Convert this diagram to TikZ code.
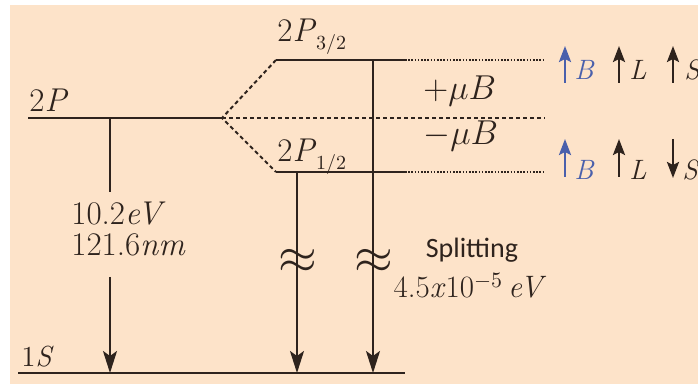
\documentclass[tikz,border=0pt]{standalone}
\usepackage{fontspec}
\newfontfamily\notefont{Carlito}
\usetikzlibrary{arrows.meta,positioning}
\definecolor{peach}{HTML}{FDE3C9}
\definecolor{ink}{HTML}{2E231D}
\definecolor{fieldblue}{HTML}{4A60AC}
\newcommand{\jsub}[1]{\raisebox{-4pt}{\fontsize{10}{10}\selectfont #1}}
\tikzset{
  level/.style={draw=ink,line width=1.4pt},
  splitline/.style={draw=ink,line width=1pt,dash pattern=on 2pt off 1.5pt},
  guide/.style={draw=ink,line width=0.9pt,dash pattern=on 0.8pt off 0.8pt},
  drop/.style={draw=ink,line width=1pt},
  trans/.style={drop,-{Stealth[length=11pt,width=7pt,inset=2.5pt]}},
  spin/.style={line width=1.2pt,-{Stealth[length=8pt,width=6pt,inset=1.5pt]}},
  lbl/.style={inner sep=0pt,text=ink,font=\fontsize{16.5}{16}\selectfont},
  spinlbl/.style={inner sep=0pt,font=\fontsize{14}{14}\selectfont\itshape},
  brk/.style={inner sep=0pt,text=ink,font=\fontsize{24}{24}\selectfont}
}
\begin{document}
\begin{tikzpicture}[x=0.5pt,y=-0.5pt]
\useasboundingbox (0,0) rectangle (698,384);
\fill[peach] (10,5) rectangle (698,384);
% levels
\coordinate (p2l) at (28,118);  \coordinate (p2r) at (222,118);
\coordinate (p32l) at (276,60); \coordinate (p32r) at (405,60);
\coordinate (p12l) at (276,172); \coordinate (p12r) at (405,172);
\coordinate (s1l) at (18,373);  \coordinate (s1r) at (405,373);
\draw[level] (p2l) -- (p2r);
\draw[level] (p32l) -- (p32r);
\draw[level] (p12l) -- (p12r);
\draw[level] (s1l) -- (s1r);
\node[lbl,anchor=base west] (n2p) at (29,112) {2\textit{P}};
\node[lbl,anchor=base west] (n32) at (277,42) {2\textit{P}\jsub{3/2}};
\node[lbl,anchor=base west] (n12) at (277,162) {2\textit{P}\jsub{1/2}};
\node[lbl,anchor=base west,font=\fontsize{14.5}{15}\selectfont] (n1s) at (21,367) {1\textit{S}};
% splitting in the field
\coordinate (e32) at (545,60); \coordinate (e0) at (545,118); \coordinate (e12) at (545,172);
\draw[splitline] (p32l) -- (p2r) -- (p12l);
\draw[splitline] (p2r) -- (e0);
\draw[guide] (p32r) -- (e32);
\draw[guide] (p12r) -- (e12);
\node[lbl,anchor=base west] (plus) at (423,100) {$+\mu B$};
\node[lbl,anchor=base west] (minus) at (423,145) {$-\mu B$};
% transitions
\node[lbl,align=left,anchor=west] (lyman) at (71,229) {10.2\textit{eV}\\121.6\textit{nm}};
\coordinate (d2p) at (110,118);
\coordinate (gapT) at (110,192); \coordinate (gapB) at (110,277);
\draw[drop] (d2p) -- (gapT);
\draw[trans] (gapB) -- (d2p |- s1l);
\coordinate (d12) at (297,172); \coordinate (d32) at (373,60);
\draw[trans] (d12) -- (d12 |- s1l);
\draw[trans] (d32) -- (d32 |- s1l);
\node[brk] (w12) at (298,261) {$\approx$};
\node[brk] (w32) at (374,261) {$\approx$};
\node[inner sep=0pt,text=ink,anchor=base,font=\notefont\fontsize{14}{14}\selectfont] (splitA) at (472,258) {Splitting};
\node[lbl,anchor=base,font=\fontsize{15.5}{16}\selectfont] (splitB) at (470,298) {4.5\textit{x}10\textsuperscript{$-5$}\,\textit{eV}};
% spin orientation
\foreach \s/\x/\c in {B/565/fieldblue,L/619/ink,S/673/ink}{
  \coordinate (ut\s) at (\x,83); \coordinate (uh\s) at (\x,46);
  \draw[spin,\c] (ut\s) -- (uh\s);
  \node[spinlbl,text=\c] (lu\s) at (\x+19,70) {\s};
}
\foreach \s/\x/\c in {B/565/fieldblue,L/619/ink}{
  \coordinate (lt\s) at (\x,177); \coordinate (lh\s) at (\x,139);
  \draw[spin,\c] (lt\s) -- (lh\s);
  \node[spinlbl,text=\c] (ll\s) at (\x+19,170) {\s};
}
\coordinate (ltS) at (673,139); \coordinate (lhS) at (673,178);
\draw[spin,ink] (ltS) -- (lhS);
\node[spinlbl,text=ink] (llS) at (690,170) {S};
\end{tikzpicture}
\end{document}
